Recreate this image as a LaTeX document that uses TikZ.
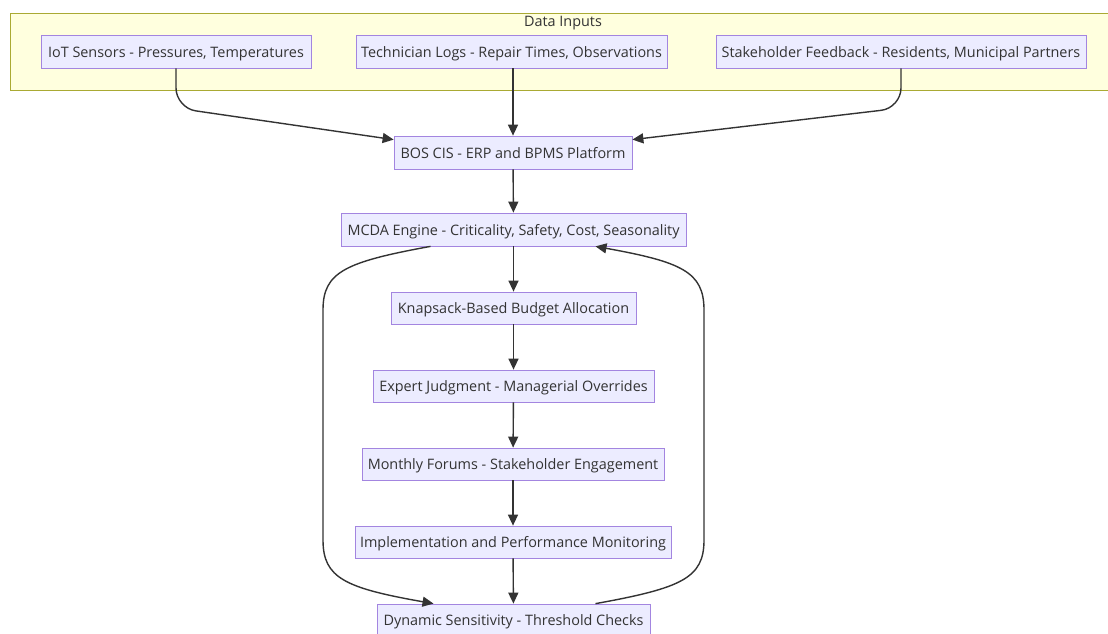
\documentclass[tikz,border=0pt]{standalone}
\usepackage{fontspec}
\setmainfont{Open Sans}
\usetikzlibrary{arrows.meta,calc}
\definecolor{nodefill}{HTML}{ECECFF}
\definecolor{nodeline}{HTML}{9370DB}
\definecolor{clusterfill}{HTML}{FFFFDE}
\definecolor{clusterline}{HTML}{AAAA33}
\definecolor{txt}{HTML}{333333}
\tikzset{
  lbl/.style={text=txt, font=\fontsize{14.4}{17}\selectfont},
  box/.style={lbl, draw=nodeline!85, fill=nodefill, line width=0.75pt, inner sep=0pt, minimum height=33pt, text height=14pt, text depth=3pt},
  flow/.style={draw=txt, line width=1.4pt, -{Triangle[length=11pt,width=10pt]}, rounded corners=20pt},
}
\begin{document}
\begin{tikzpicture}[x=1pt,y=-1pt]
\useasboundingbox (0,0) rectangle (1108,633);
\fill[white] (0,0) rectangle (1108,633);
\draw[draw=clusterline, fill=clusterfill, line width=0.75pt] (10,13) rectangle (1108,90);
\node[lbl] (title) at (563,23) {Data Inputs};
\node[box, minimum width=270pt] (iot) at (176,51.5) {IoT Sensors - Pressures, Temperatures};
\node[box, minimum width=311pt] (tech) at (511.5,51.5) {Technician Logs - Repair Times, Observations};
\node[box, minimum width=370pt] (stake) at (901,51.5) {Stakeholder Feedback - Residents, Municipal Partners};
\node[box, minimum width=238pt] (bos) at (513,152.5) {BOS CIS - ERP and BPMS Platform};
\node[box, minimum width=345pt] (mcda) at (513.5,229.5) {MCDA Engine - Criticality, Safety, Cost, Seasonality};
\node[box, minimum width=245pt, minimum height=32pt] (knap) at (513.5,308) {Knapsack-Based Budget Allocation};
\node[box, minimum width=281pt, minimum height=32pt] (expert) at (513.5,386) {Expert Judgment - Managerial Overrides};
\node[box, minimum width=302pt, minimum height=32pt] (forum) at (513,464) {Monthly Forums - Stakeholder Engagement};
\node[box, minimum width=316pt, minimum height=32pt] (impl) at (513,542) {Implementation and Performance Monitoring};
\node[box, minimum width=273pt, minimum height=32pt] (dyn) at (513.5,620) {Dynamic Sensitivity - Threshold Checks};

\draw[flow] (iot.south) -- (176,108) -- ($(bos.north west)+(0,4)$);
\draw[flow] (tech.south -| bos.north) -- (bos.north);
\draw[flow] (stake.south) -- (901,108) -- ($(bos.north east)+(0,4)$);
\draw[flow] (bos) -- (mcda);
\draw[flow] (mcda) -- (knap);
\draw[flow] (knap) -- (expert);
\draw[flow] (expert) -- (forum);
\draw[flow] (forum) -- (impl);
\draw[flow] (impl) -- (dyn);
\draw[flow, rounded corners=0pt] ($(mcda.south)+(-83,0)$) .. controls (345,262) and (323,272) .. (323,310) -- (323,540) .. controls (323,578) and (345,588) .. ($(dyn.north)+(-80,0)$);
\draw[flow, rounded corners=0pt] ($(dyn.north)+(82,0)$) .. controls (682,588) and (704,578) .. (704,540) -- (704,310) .. controls (704,272) and (682,262) .. ($(mcda.south)+(82,0)$);
\end{tikzpicture}
\end{document}
